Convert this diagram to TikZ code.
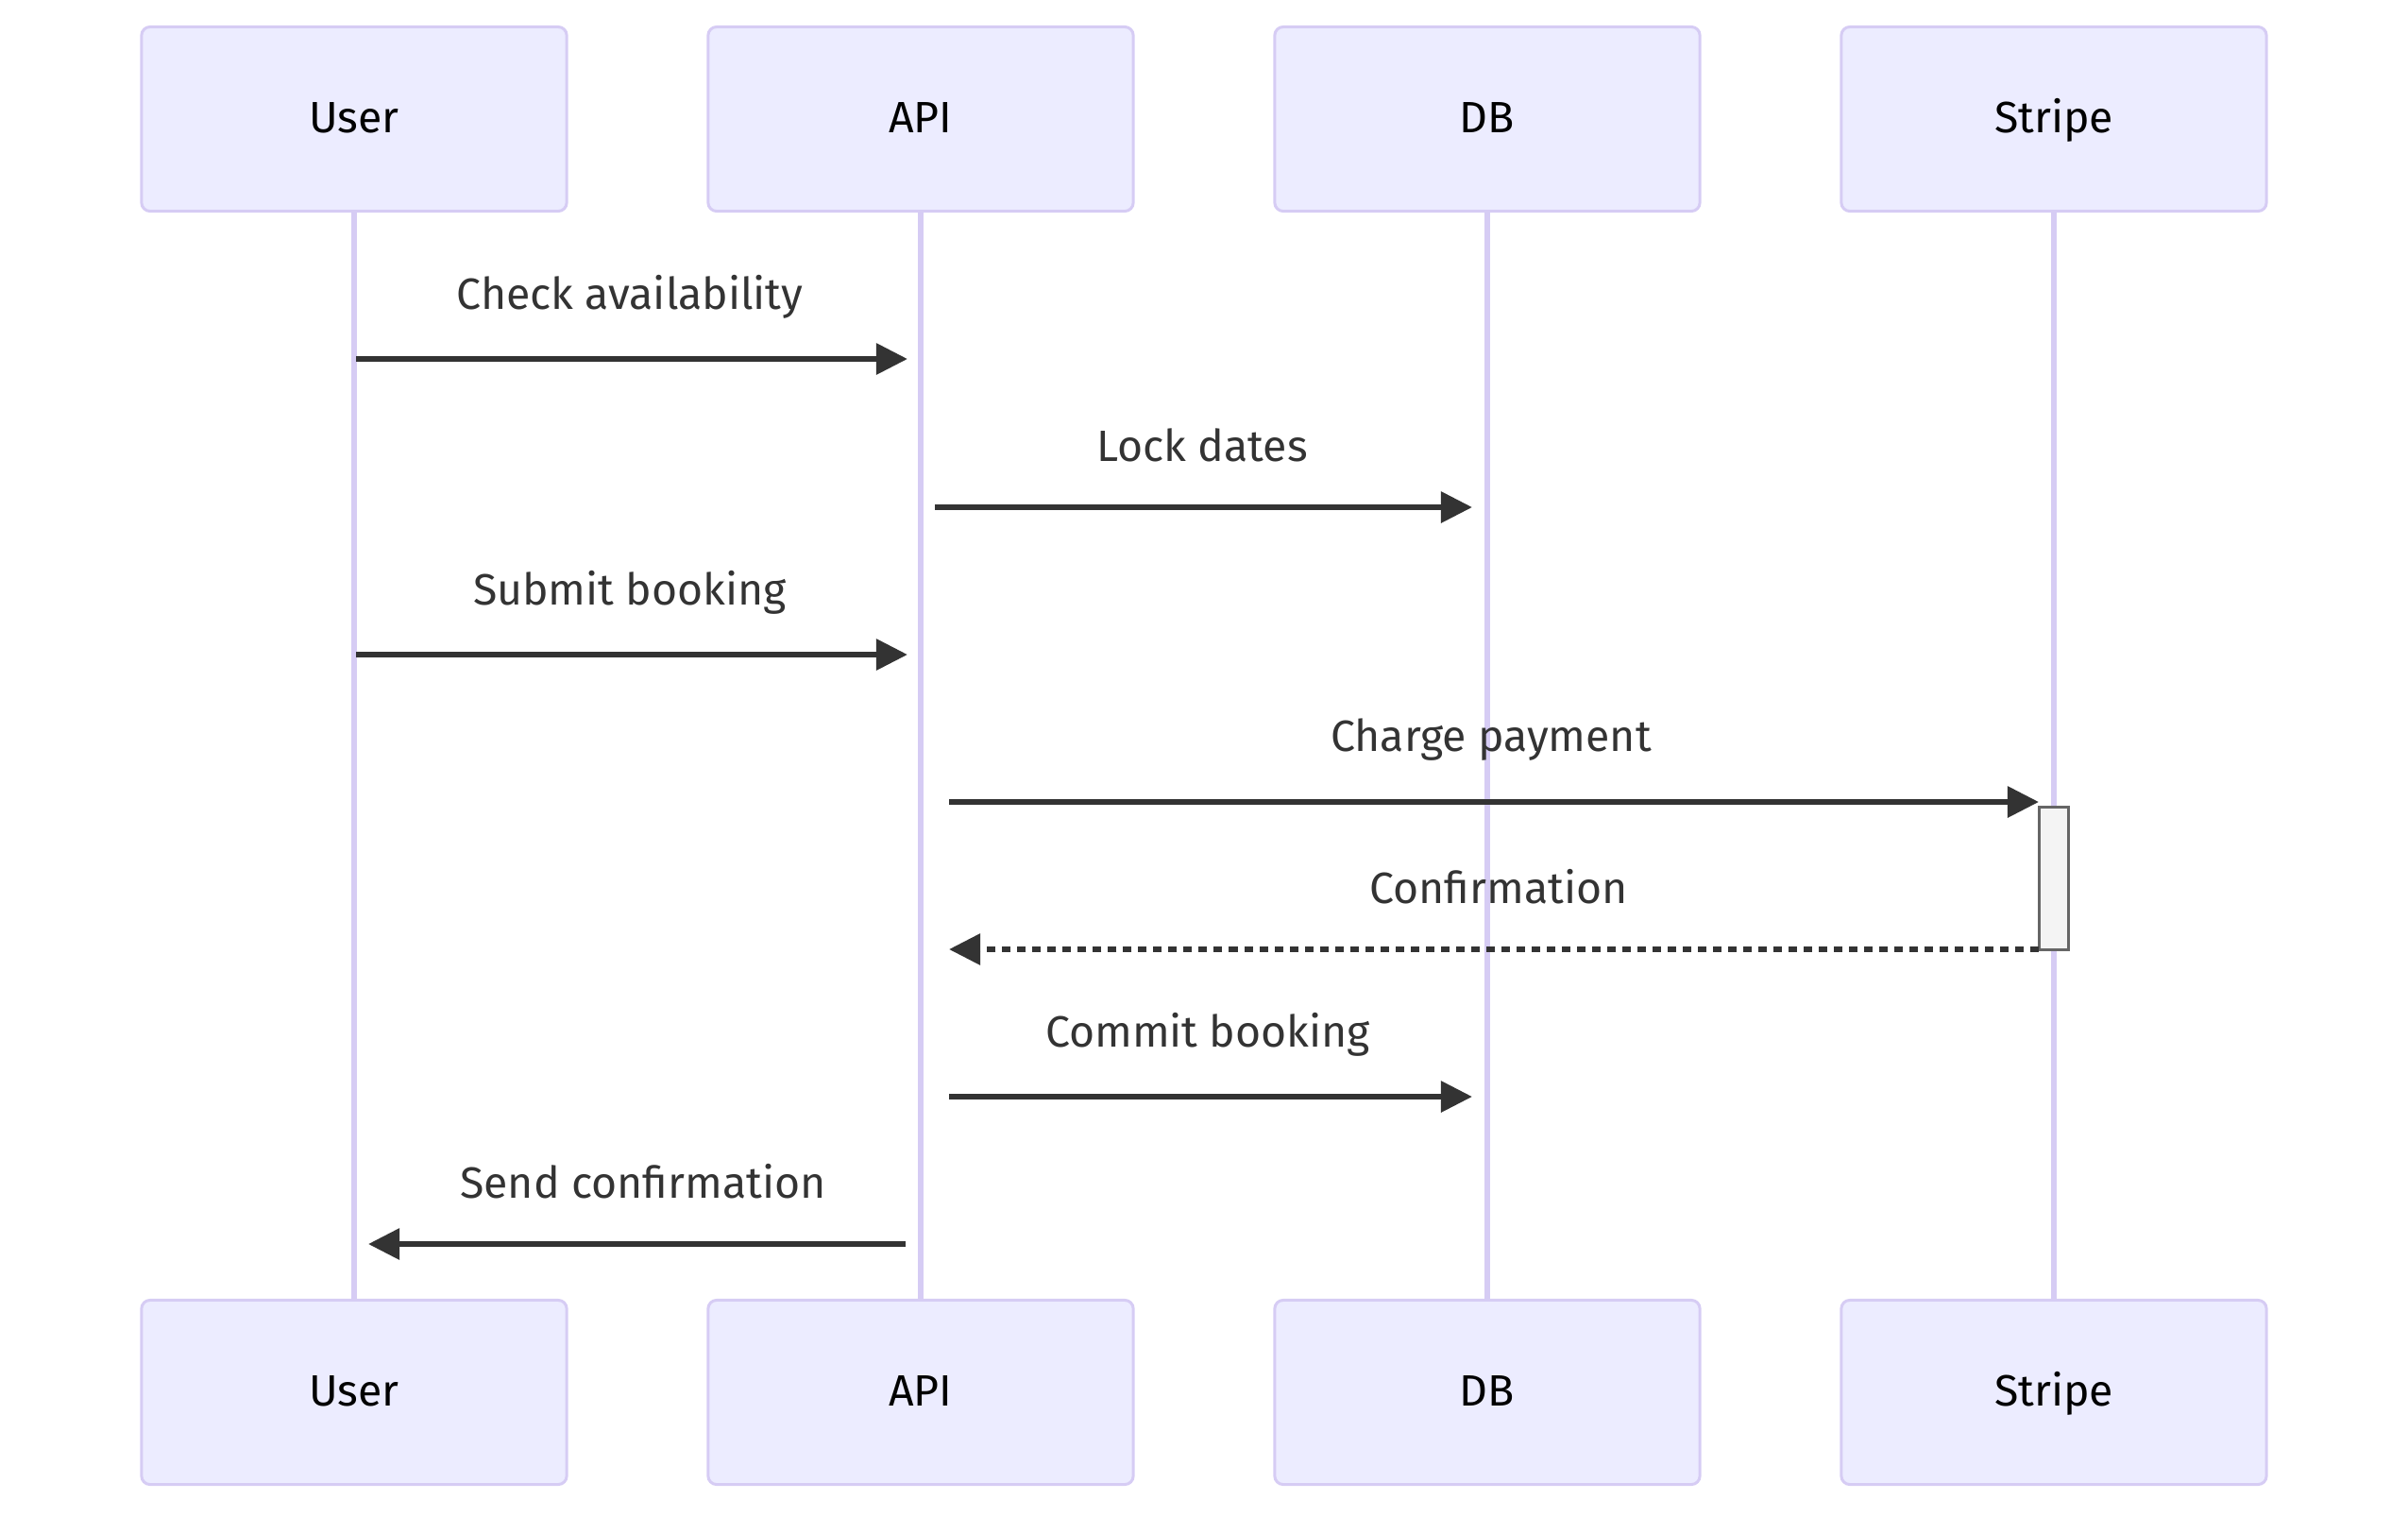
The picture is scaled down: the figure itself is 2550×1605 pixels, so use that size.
\documentclass[tikz,border=0pt]{standalone}
\usepackage{fontspec}
\setmainfont{Fira Sans}
\usetikzlibrary{arrows.meta}
\definecolor{actorfill}{HTML}{ECECFF}
\definecolor{actorline}{HTML}{D6CCF4}
\definecolor{msgcol}{HTML}{333333}
\definecolor{actfill}{HTML}{F4F4F4}
\definecolor{actline}{HTML}{666666}
\newcommand{\msgfont}{\fontsize{13.2}{16}\selectfont}

\begin{document}
\begin{tikzpicture}[x=0.01cm,y=-0.01cm]
                        \tikzstyle{actor}=[draw=actorline,line width=0.03cm,fill=actorfill,rounded corners=0.09cm,
                            minimum width=4.5cm,minimum height=1.95cm,font=\msgfont,text=black,
                            text height=0.86em,text depth=0.04em]
                        \tikzstyle{lifeline}=[draw=actorline,line width=0.055cm]
                        \tikzstyle{msg}=[draw=msgcol,line width=0.06cm,-{Triangle[length=0.33cm,width=0.32cm]}]
                        \tikzstyle{reply}=[msg,dash pattern=on 0.09cm off 0.07cm]
                        \tikzstyle{msglabel}=[font=\msgfont,text=msgcol,inner sep=0pt]
                        \useasboundingbox (0,0) rectangle (2550,1605);
                        \node[actor] (topuser) at (375,126) {User};
                        \node[actor] (topapi) at (975,126) {API};
                        \node[actor] (topdb) at (1575,126) {DB};
                        \node[actor] (topstripe) at (2175,126) {Stripe};
                        \node[actor] (botuser) at (375,1474) {User};
                        \node[actor] (botapi) at (975,1474) {API};
                        \node[actor] (botdb) at (1575,1474) {DB};
                        \node[actor] (botstripe) at (2175,1474) {Stripe};
                        \draw[lifeline] (topuser) -- (botuser);
                        \draw[lifeline] (topapi) -- (botapi);
                        \draw[lifeline] (topdb) -- (botdb);
                        \draw[lifeline] (topstripe) -- (botstripe);
                        \node[draw=actline,line width=0.03cm,fill=actfill,minimum width=0.31cm,minimum height=1.51cm,inner sep=0pt]
                            (payact) at (2175,930) {};
                        \coordinate (c1a) at (377,380);  \coordinate (c1b) at (961,380);
                        \coordinate (c2a) at (990,537);  \coordinate (c2b) at (1559,537);
                        \coordinate (c3a) at (377,693);  \coordinate (c3b) at (961,693);
                        \coordinate (c4a) at (1005,849); \coordinate (c4b) at (2159,849);
                        \coordinate (c5a) at (2159,1005); \coordinate (c5b) at (1005,1005);
                        \coordinate (c6a) at (1005,1161); \coordinate (c6b) at (1559,1161);
                        \coordinate (c7a) at (959,1317); \coordinate (c7b) at (390,1317);
                        \draw[msg] (c1a) -- (c1b);
                        \draw[msg] (c2a) -- (c2b);
                        \draw[msg] (c3a) -- (c3b);
                        \draw[msg] (c4a) -- (c4b);
                        \draw[reply] (c5a) -- (c5b);
                        \draw[msg] (c6a) -- (c6b);
                        \draw[msg] (c7a) -- (c7b);
                        \node[msglabel] (l1) at (667,314) {Check availability};
                        \node[msglabel] (l2) at (1273,471) {Lock dates};
                        \node[msglabel] (l3) at (667,627) {Submit booking};
                        \node[msglabel] (l4) at (1579,783) {Charge payment};
                        \node[msglabel] (l5) at (1587,939) {Confirmation};
                        \node[msglabel] (l6) at (1279,1095) {Commit booking};
                        \node[msglabel] (l7) at (681,1251) {Send confirmation};
                    \end{tikzpicture}
\end{document}
